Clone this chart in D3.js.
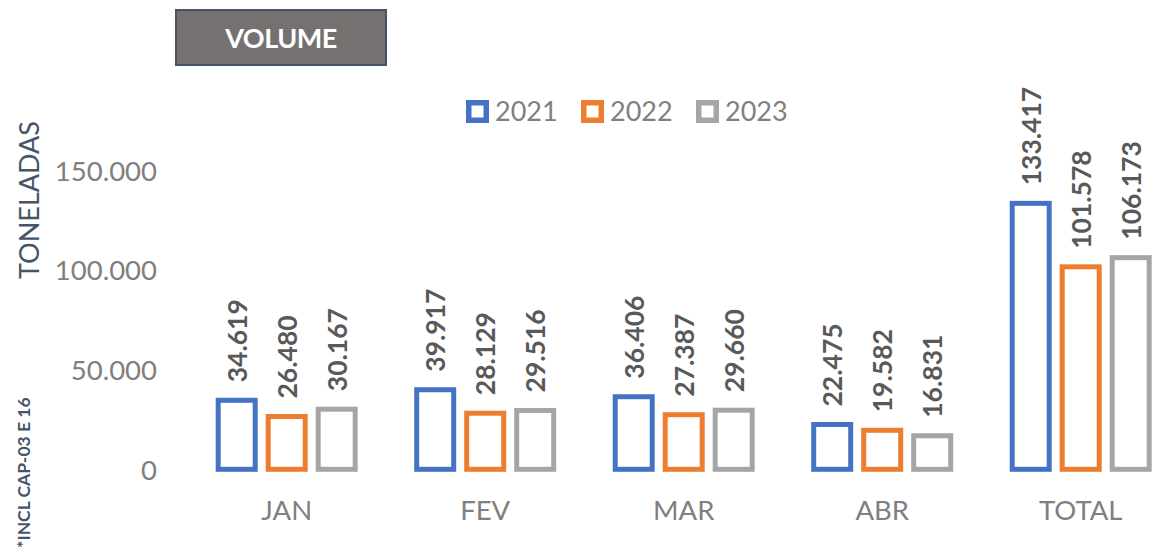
<!DOCTYPE html>
<html>
<head>
<meta charset="utf-8">
<script src="https://cdn.jsdelivr.net/npm/d3@7"></script>
<style>
  html, body { margin: 0; padding: 0; background: #ffffff; }
  svg { display: block; font-family: Lato, "Open Sans", sans-serif; }
</style>
</head>
<body>
<svg id="chart" width="1153" height="550"></svg>
<script>
// ---- data ----
const categories = ["JAN", "FEV", "MAR", "ABR", "TOTAL"];
const years = ["2021", "2022", "2023"];
const values2021 = [34619, 39917, 36406, 22475, 133417];
const values2022 = [26480, 28129, 27387, 19582, 101578];
const values2023 = [30167, 29516, 29660, 16831, 106173];
const yTicks = [0, 50000, 100000, 150000];
const titleText = "VOLUME";
const yAxisTitle = "TONELADAS";
const footnote = "*INCL CAP-03 E 16";

const seriesValues = [values2021, values2022, values2023];
const colors = ["#4472C4", "#ED7D31", "#A5A5A5"];

const locale = d3.formatLocale({ decimal: ",", thousands: ".", grouping: [3], currency: ["R$", ""] });
const fmt = locale.format(",.0f");

const svg = d3.select("#chart");

// ---- scales ----
const y = d3.scaleLinear().domain([0, 150000]).range([469.3, 170.3]);
const x0 = d3.scaleBand().domain(categories).range([187.45, 1179.95]).padding(0);
const half = x0.bandwidth() / 2;
const x1 = d3.scaleBand().domain(years).range([half - 75, half + 75])
  .paddingInner(0.26).paddingOuter(0.13);

// ---- title box ----
const tg = svg.append("g");
tg.append("rect").attr("x", 176).attr("y", 10).attr("width", 210).attr("height", 55)
  .attr("fill", "#767171").attr("stroke", "#44546A").attr("stroke-width", 2);
tg.append("text").attr("x", 281).attr("y", 37.5)
  .attr("text-anchor", "middle").attr("dominant-baseline", "central")
  .attr("fill", "#ffffff").attr("font-weight", "bold").attr("font-size", 27)
  .attr("letter-spacing", -0.5)
  .text(titleText);

// ---- y axis ----
const yAxis = svg.append("g").attr("transform", "translate(157,0)")
  .call(d3.axisLeft(y).tickValues(yTicks).tickSize(0).tickPadding(0).tickFormat(fmt));
yAxis.select(".domain").remove();
yAxis.selectAll("text").attr("fill", "#808080").attr("font-size", 27.5)
  .attr("font-family", "Lato, sans-serif").attr("dy", "0.36em");

// ---- x axis ----
const xAxis = svg.append("g").attr("transform", "translate(0,469.3)")
  .call(d3.axisBottom(x0).tickSize(0).tickPadding(0));
xAxis.select(".domain").remove();
xAxis.selectAll("text").attr("fill", "#808080").attr("font-size", 27.5)
  .attr("font-family", "Lato, sans-serif").attr("y", 50.5).attr("dy", 0);

// ---- axis titles ----
svg.append("text").attr("transform", "translate(39,200) rotate(-90)")
  .attr("text-anchor", "middle").attr("fill", "#44546A").attr("font-size", 27)
  .text(yAxisTitle);
svg.append("text").attr("transform", "translate(30,548) rotate(-90)")
  .attr("text-anchor", "start").attr("fill", "#44546A").attr("font-size", 17.5)
  .attr("font-weight", "bold")
  .text(footnote);

// ---- bars ----
const groups = svg.append("g").selectAll("g").data(categories).join("g")
  .attr("transform", d => `translate(${x0(d)},0)`);

years.forEach((yr, si) => {
  groups.append("rect")
    .attr("x", x1(yr))
    .attr("y", (d, i) => y(seriesValues[si][i]))
    .attr("width", x1.bandwidth())
    .attr("height", (d, i) => y(0) - y(seriesValues[si][i]))
    .attr("fill", "#ffffff")
    .attr("stroke", colors[si])
    .attr("stroke-width", 5);
  groups.append("text")
    .attr("transform", (d, i) => `translate(${x1(yr) + x1.bandwidth() / 2},${y(seriesValues[si][i]) - 18}) rotate(-90)`)
    .attr("text-anchor", "start").attr("dominant-baseline", "central")
    .attr("fill", "#595959").attr("font-weight", "bold").attr("font-size", 26.5)
    .text((d, i) => fmt(seriesValues[si][i]));
});

// ---- legend ----
const legendX = [466, 581, 696];
const lg = svg.append("g").selectAll("g").data(years).join("g")
  .attr("transform", (d, i) => `translate(${legendX[i]},100)`);
lg.append("rect").attr("x", 2.75).attr("y", 2.75).attr("width", 17.5).attr("height", 17.5)
  .attr("fill", "#ffffff").attr("stroke", (d, i) => colors[i]).attr("stroke-width", 5.5);
lg.append("text").attr("x", 29).attr("y", 20.5)
  .attr("fill", "#808080").attr("font-size", 27)
  .text(d => d);
</script>
</body>
</html>
